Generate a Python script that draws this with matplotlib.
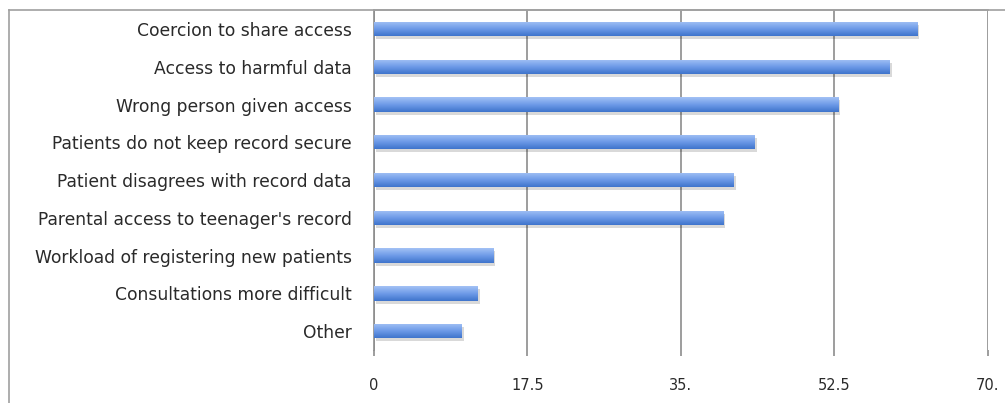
import numpy as np
import matplotlib
matplotlib.use('Agg')
import matplotlib.pyplot as plt
from matplotlib.lines import Line2D
from matplotlib.colors import LinearSegmentedColormap

categories = ['Coercion to share access', 'Access to harmful data', 'Wrong person given access',
              'Patients do not keep record secure', 'Patient disagrees with record data',
              "Parental access to teenager's record", 'Workload of registering new patients',
              'Consultations more difficult', 'Other']
values = [61.9, 58.8, 52.9, 43.4, 41.0, 39.8, 13.6, 11.8, 10.0]
xticks = [0, 17.5, 35, 52.5, 70]
xtick_labels = ['0', '17.5', '35.', '52.5', '70.']

GRID = '#8c8c8c'
plt.rcParams['font.family'] = ['DejaVu Sans']

fig = plt.figure(figsize=(10.05, 4.03), dpi=100)
ax = fig.add_axes([0.372, 0.1315, 0.611, 0.8435])

y = np.arange(len(categories))
h = 0.38
# soft shadow behind bars
ax.barh(y + 0.08, values, height=h, left=0.25, color='#000000', alpha=0.15, zorder=2)
bars = ax.barh(y, values, height=h, color='#6d9ae6', zorder=3)

# vertical gradient on each bar: light top, darker bottom
grad = LinearSegmentedColormap.from_list('g', ['#a3c2f5', '#6e9be8', '#3f74cc'])
g = np.linspace(0, 1, 64).reshape(-1, 1)
for b in bars:
    x0, y0 = b.get_x(), b.get_y()
    im = ax.imshow(g, cmap=grad, aspect='auto', zorder=4,
                   extent=[x0, x0 + b.get_width(), y0 + b.get_height(), y0])
    im.set_clip_path(b)

ax.set_xlim(0, 70)
ax.set_ylim(len(categories) - 0.5, -0.5)
ax.set_xticks(xticks)
ax.set_xticklabels(xtick_labels, fontsize=10.5, color='#2a2a2a')
ax.set_yticks(y)
ax.set_yticklabels(categories, fontsize=12.3, color='#2a2a2a')
ax.tick_params(axis='y', length=0, pad=16)
ax.tick_params(axis='x', length=4, width=1.2, color=GRID, pad=16)
ax.grid(axis='x', color=GRID, linewidth=1.2, zorder=1)
for s in ['bottom', 'right']:
    ax.spines[s].set_visible(False)
ax.spines['left'].set_color(GRID)
ax.spines['left'].set_linewidth(1.2)
ax.spines['top'].set_color('#a0a0a0')
ax.spines['top'].set_linewidth(1.2)

# outer chart frame (top and left edges)
fig.add_artist(Line2D([9 / 1005, 1], [1 - 10 / 403, 1 - 10 / 403], color='#a0a0a0', lw=1.2))
fig.add_artist(Line2D([9 / 1005, 9 / 1005], [0, 1 - 10 / 403], color='#a0a0a0', lw=1.2))

fig.savefig('out.png', dpi=100)
